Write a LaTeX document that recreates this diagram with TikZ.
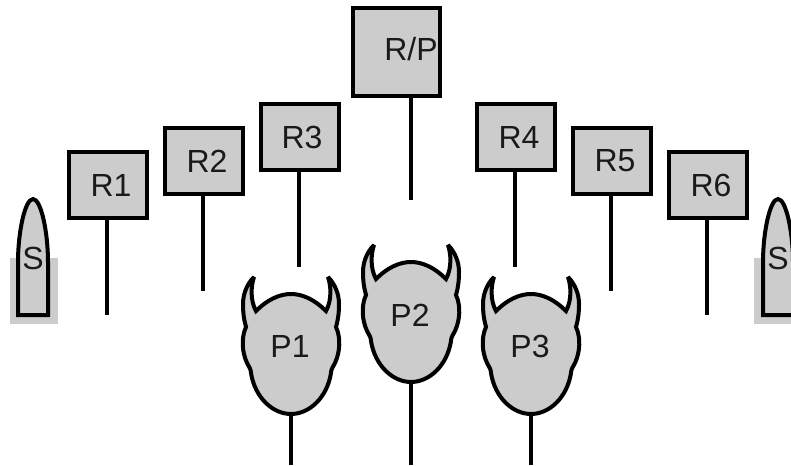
\documentclass[tikz,border=0pt]{standalone}
\usepackage{fontspec}
\setmainfont{Liberation Sans}
\definecolor{fillgray}{HTML}{CCCCCC}
\definecolor{inkgray}{HTML}{1A1A1A}
\tikzset{
  ink/.style={line width=4pt,draw=black},
  rbox/.style={ink,fill=fillgray,minimum width=78pt,minimum height=66pt,inner sep=0pt,text=inkgray,font=\fontsize{32}{32}\selectfont},
  lbl/.style={inner sep=0pt,text=inkgray,font=\fontsize{32}{32}\selectfont},
  shade/.style={fill=fillgray,draw=none},
  wire/.style={ink,line cap=butt},
  shell/.style={ink,fill=fillgray,line join=miter},
  devil/.style={ink,fill=fillgray,line join=miter,miter limit=3}
}
\newcommand{\devilhead}[1]{%
  \path[devil,shift={(#1)}]
    (-37,-69) .. controls (-44,-62) and (-48,-52) .. (-48,-42)
    .. controls (-48,-33) and (-47,-26) .. (-45,-19)
    .. controls (-50,-8) and (-49,6) .. (-44,17)
    .. controls (-42,21) and (-40,23) .. (-40,27)
    .. controls (-36,52) and (-18,68) .. (0,68)
    .. controls (18,68) and (36,52) .. (40,27)
    .. controls (40,23) and (42,21) .. (44,17)
    .. controls (49,6) and (50,-8) .. (45,-19)
    .. controls (47,-26) and (48,-33) .. (48,-42)
    .. controls (48,-52) and (44,-62) .. (37,-69)
    .. controls (40,-60) and (41,-46) .. (35,-35)
    .. controls (24,-46) and (12,-52) .. (0,-52)
    .. controls (-12,-52) and (-24,-46) .. (-35,-35)
    .. controls (-41,-46) and (-40,-60) .. (-37,-69) -- cycle;}
\newcommand{\shellshape}[1]{%
  \path[shell,shift={(#1)}]
    (-15,315) -- (-15,262) .. controls (-15,232) and (-8,199) .. (0,199)
    .. controls (8,199) and (15,232) .. (15,262) -- (15,315) -- cycle;}
\begin{document}
\begin{tikzpicture}[x=1pt,y=-1pt]
\useasboundingbox (0,0) rectangle (791,465);
\clip (0,0) rectangle (791,465);
% boxes
\node[rbox,minimum width=87pt,minimum height=88pt] (rp) at (396.5,52) {\hspace*{29pt}\raisebox{6pt}{R/P}};
\node[rbox] (r1) at (107.5,185) {\hspace*{7pt}R1};
\node[rbox] (r2) at (203.5,161) {\hspace*{7pt}R2};
\node[rbox] (r3) at (299.5,137) {\hspace*{5pt}R3};
\node[rbox] (r4) at (515.5,137) {\hspace*{7pt}R4};
\node[rbox] (r5) at (611.5,161) {\hspace*{7pt}R5};
\node[rbox] (r6) at (707.5,185) {\hspace*{7pt}R6};
% free ends of the wires
\coordinate (rpend) at (411,200);
\coordinate (r1top) at (107,218); \coordinate (r1end) at (107,315);
\coordinate (r2top) at (203,194); \coordinate (r2end) at (203,291);
\coordinate (r3top) at (299,170); \coordinate (r3end) at (299,267);
\coordinate (r4top) at (515,170); \coordinate (r4end) at (515,267);
\coordinate (r5top) at (611,194); \coordinate (r5end) at (611,291);
\coordinate (r6top) at (707,218); \coordinate (r6end) at (707,315);
\coordinate (rptop) at (411,96);
\draw[wire] (rptop) -- (rpend);
\draw[wire] (r1top) -- (r1end);
\draw[wire] (r2top) -- (r2end);
\draw[wire] (r3top) -- (r3end);
\draw[wire] (r4top) -- (r4end);
\draw[wire] (r5top) -- (r5end);
\draw[wire] (r6top) -- (r6end);
% shields
\fill[shade] (10,258) rectangle (58,324);
\fill[shade] (754,258) rectangle (791,324);
\shellshape{33,0}
\shellshape{778,0}
\node[lbl] (s1) at (33,258) {S};
\node[lbl] (s2) at (778,258) {S};
% heads
\devilhead{291,346}
\devilhead{411,314}
\devilhead{531,346}
\node[lbl] (p1) at (290,346) {P1};
\node[lbl] (p2) at (410,315) {P2};
\node[lbl] (p3) at (530,346) {P3};
\coordinate (p1chin) at (291,414); \coordinate (p1end) at (291,465);
\coordinate (p2chin) at (411,382); \coordinate (p2end) at (411,465);
\coordinate (p3chin) at (531,414); \coordinate (p3end) at (531,465);
\draw[wire] (p1chin) -- (p1end);
\draw[wire] (p2chin) -- (p2end);
\draw[wire] (p3chin) -- (p3end);
\end{tikzpicture}
\end{document}
